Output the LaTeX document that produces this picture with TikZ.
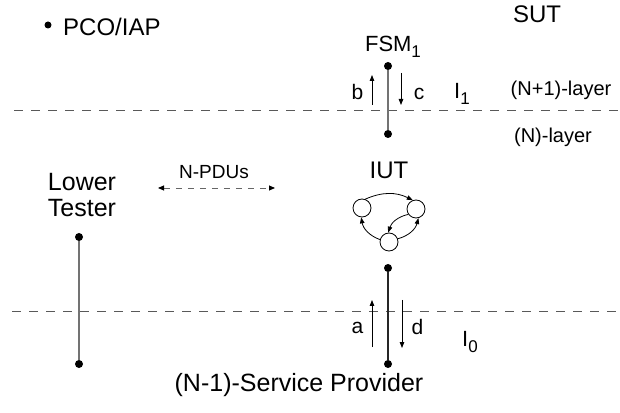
\documentclass[tikz,border=0pt]{standalone}
\usepackage{fontspec}
\setmainfont{Liberation Sans}
\usetikzlibrary{arrows.meta}
\begin{document}
\begin{tikzpicture}[x=1pt,y=1pt,
  txt/.style={inner sep=0pt, font=\fontsize{24}{26}\selectfont},
  small/.style={inner sep=0pt, font=\fontsize{20}{22}\selectfont},
  lett/.style={inner sep=0pt, font=\fontsize{21}{23}\selectfont},
  dotn/.style={circle, fill=black, inner sep=0pt, minimum size=8pt},
  state/.style={circle, draw, inner sep=0pt, minimum size=18pt, line width=0.8pt},
  layerline/.style={draw=black!65, line width=1pt, dash pattern=on 9pt off 8pt},
  sig/.style={line width=0.8pt, -{Triangle[length=6pt,width=4.5pt]}},
  tr/.style={line width=0.8pt, -{Triangle[length=6pt,width=4.5pt]}},
  pdu/.style={draw=black!60, line width=0.9pt, dash pattern=on 6pt off 6pt,
    {Triangle[length=6pt,width=5pt,fill=black,color=black]}-{Triangle[length=6pt,width=5pt,fill=black,color=black]}}
]
\useasboundingbox (0,0) rectangle (620,412);

% bullet legend
\node[dotn, minimum size=7pt] (bul) at (48,387) {};
\node[txt, anchor=west] (pco) at (63,385) {PCO/IAP};
\node[txt] (sut) at (537,398) {SUT};

% layer lines
\coordinate (l1a) at (14,301);
\coordinate (l1b) at (620,301);
\coordinate (l0a) at (12,100);
\coordinate (l0b) at (620,100);
\draw[layerline] (l1a) -- (l1b);
\draw[layerline] (l0a) -- (l0b);

% FSM1
\node[txt, font=\fontsize{22}{24}\selectfont] (fsm) at (393,365) {FSM\raisebox{-6pt}{\fontsize{17}{17}\selectfont 1}};
\node[dotn] (ft) at (388,346) {};
\node[dotn] (fb) at (388,278) {};
\draw[black!55, line width=1.4pt] (ft) -- (fb);
\coordinate (b1) at (372,307);
\coordinate (b2) at (372,337);
\coordinate (c1) at (401,339);
\coordinate (c2) at (401,307);
\draw[sig] (b1) -- (b2);
\draw[sig] (c1) -- (c2);
\node[lett] (lb) at (357.5,320) {b};
\node[lett] (lc) at (419,318) {c};
\node[txt, font=\fontsize{22}{24}\selectfont] (i1) at (462,318) {I\raisebox{-6pt}{\fontsize{17}{17}\selectfont 1}};
\node[small] (np1) at (561,322) {(N+1)-layer};
\node[small] (nl) at (553,275) {(N)-layer};

% IUT
\node[txt] (iut) at (389,242) {IUT};
\node[state] (sl) at (362,204) {};
\node[state] (sr) at (416,203) {};
\node[state] (sb) at (389,170) {};
\draw[tr] (sl.70) to[bend left=25] (sr.110);
\draw[tr] (sr.215) to[bend right=30] (sb.95);
\draw[tr] (sb.165) to[bend left=30] (sl.265);
\draw[tr] (sb.20) to[bend right=30] (sr.285);

\node[dotn] (it) at (388,144) {};
\node[dotn] (ib) at (388,48) {};
\draw[black!85, line width=1.4pt] (it) -- (ib);
\coordinate (a1) at (372,65);
\coordinate (a2) at (372,112);
\coordinate (d1) at (402,112);
\coordinate (d2) at (402,64);
\draw[sig] (a1) -- (a2);
\draw[sig] (d1) -- (d2);
\node[lett] (la) at (357.5,84.5) {a};
\node[lett] (ld) at (417.5,85) {d};
\node[txt, font=\fontsize{22}{24}\selectfont] (i0) at (470,70) {I\raisebox{-6pt}{\fontsize{17}{17}\selectfont 0}};

% Lower tester
\node[txt, align=center, font=\fontsize{25}{26}\selectfont] (lt) at (82,217) {Lower\\Tester};
\node[dotn] (lt1) at (79,175) {};
\node[dotn] (lt2) at (79,48) {};
\draw[black!55, line width=1.4pt] (lt1) -- (lt2);

% N-PDUs
\node[inner sep=0pt, font=\fontsize{19}{21}\selectfont] (pdus) at (214,240) {N-PDUs};
\coordinate (p1) at (158,224);
\coordinate (p2) at (275,224);
\draw[pdu] (p1) -- (p2);

% service provider
\node[txt, font=\fontsize{25}{27}\selectfont] (sp) at (299,27) {(N-1)-Service Provider};
\end{tikzpicture}
\end{document}
